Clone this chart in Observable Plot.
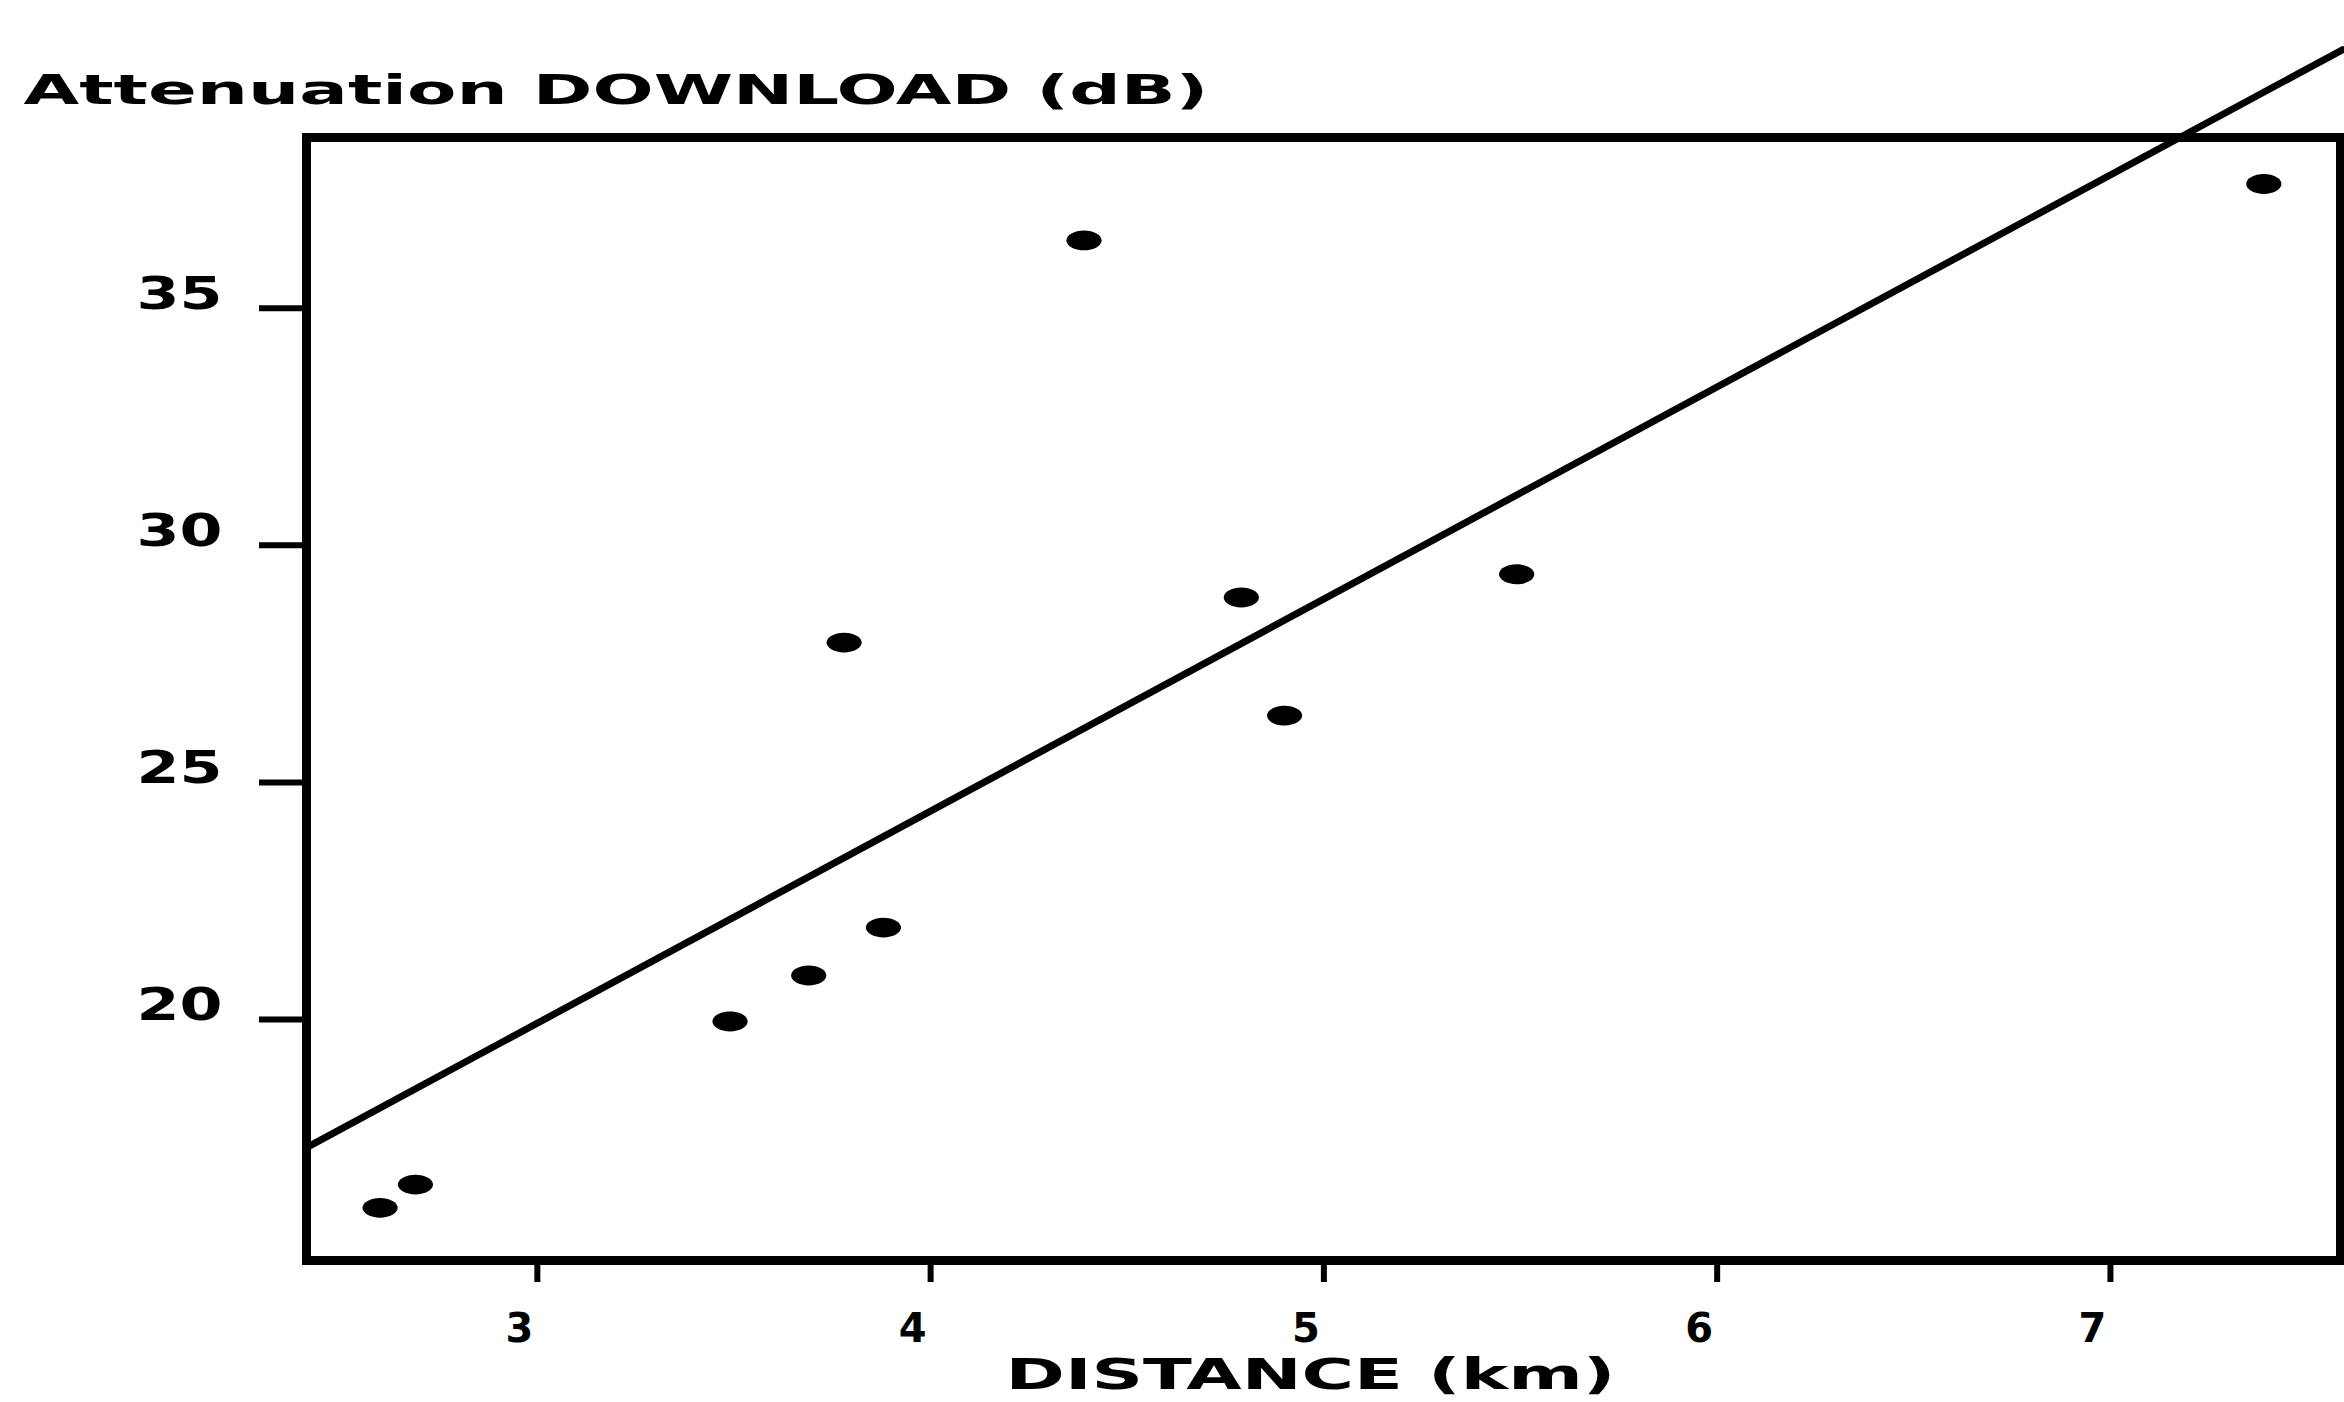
<!DOCTYPE html>
<html><head><meta charset="utf-8">
<script src="https://cdn.jsdelivr.net/npm/d3@7"></script>
<script src="https://cdn.jsdelivr.net/npm/@observablehq/plot@0.6"></script>
<style>html,body{margin:0;padding:0;background:#fff;} #chart{width:2344px;height:1402px;}</style>
</head><body><div id="chart"></div>
<script>
const titleText = "Attenuation DOWNLOAD (dB)";
const xLabelText = "DISTANCE (km)";
const distance    = [2.60, 2.69, 3.49, 3.69, 3.78, 3.88, 4.39, 4.79, 4.90, 5.49, 7.39];
const attenuation = [16.03, 16.52, 19.96, 20.93, 27.95, 21.94, 36.43, 28.90, 26.41, 29.39, 37.62];
const fitX = [2.413, 7.59];
const fitY = [17.3, 40.45];
const xTicks = [3, 4, 5, 6, 7];
const yTicks = [20, 25, 30, 35];
const xDomain = [2.413, 7.585];
const yDomain = [14.92, 38.6];

const points = distance.map((d, i) => ({x: d, y: attenuation[i]}));
const fit = fitX.map((d, i) => ({x: d, y: fitY[i]}));

const ellipse = {
  draw(context, size) {
    const r = Math.sqrt(size / Math.PI), rx = r * 1.6, ry = r * 0.9, k = 0.5523;
    context.moveTo(rx, 0);
    context.bezierCurveTo(rx, ry * k, rx * k, ry, 0, ry);
    context.bezierCurveTo(-rx * k, ry, -rx, ry * k, -rx, 0);
    context.bezierCurveTo(-rx, -ry * k, -rx * k, -ry, 0, -ry);
    context.bezierCurveTo(rx * k, -ry, rx, -ry * k, rx, 0);
    context.closePath();
  }
};

const svg = Plot.plot({
  width: 2344, height: 1402,
  marginLeft: 306, marginRight: 4, marginTop: 137, marginBottom: 142,
  x: {domain: xDomain},
  y: {domain: yDomain},
  style: {fontFamily: "'DejaVu Sans', sans-serif", background: "#fff", color: "#000", overflow: "visible"},
  marks: [
    Plot.axisY({ticks: yTicks, tickSize: 47, strokeWidth: 6, tickFormat: () => "", label: null}),
    Plot.axisY({ticks: yTicks, tickSize: 0, tickPadding: 84, dy: -14, fontSize: 45, fontWeight: "bold", tickFormat: d => String(d), label: null}),
    Plot.axisX({ticks: xTicks, tickSize: 22, strokeWidth: 6, tickFormat: () => "", label: null}),
    Plot.axisX({ticks: xTicks, tickSize: 0, tickPadding: 53, dx: -18, fontSize: 40, fontWeight: "bold", tickFormat: d => String(d), label: null}),
    Plot.frame({stroke: "#000", strokeWidth: 9}),
    Plot.line(fit, {x: "x", y: "y", stroke: "#000", strokeWidth: 7}),
    Plot.dot(points, {x: "x", y: "y", r: 11, symbol: ellipse, fill: "#000", stroke: "none"}),
    Plot.text([titleText], {frameAnchor: "top-left", text: d => d, textAnchor: "start", lineAnchor: "middle", dx: -283, dy: -47, fontSize: 41, fontWeight: "bold"}),
    Plot.text([xLabelText], {frameAnchor: "bottom", text: d => d, textAnchor: "middle", lineAnchor: "middle", dx: -13, dy: 115, fontSize: 43, fontWeight: "bold"})
  ]
});

svg.querySelectorAll("text").forEach(t => {
  const s = t.textContent;
  if (s === titleText) { t.setAttribute("textLength", 1185); t.setAttribute("lengthAdjust", "spacingAndGlyphs"); }
  else if (s === xLabelText) { t.setAttribute("textLength", 610); t.setAttribute("lengthAdjust", "spacingAndGlyphs"); }
  else if (yTicks.map(String).includes(s) && t.closest('g[aria-label="y-axis tick label"]')) { t.setAttribute("textLength", 86); t.setAttribute("lengthAdjust", "spacingAndGlyphs"); }
});

document.getElementById("chart").appendChild(svg);
</script>
</body></html>
